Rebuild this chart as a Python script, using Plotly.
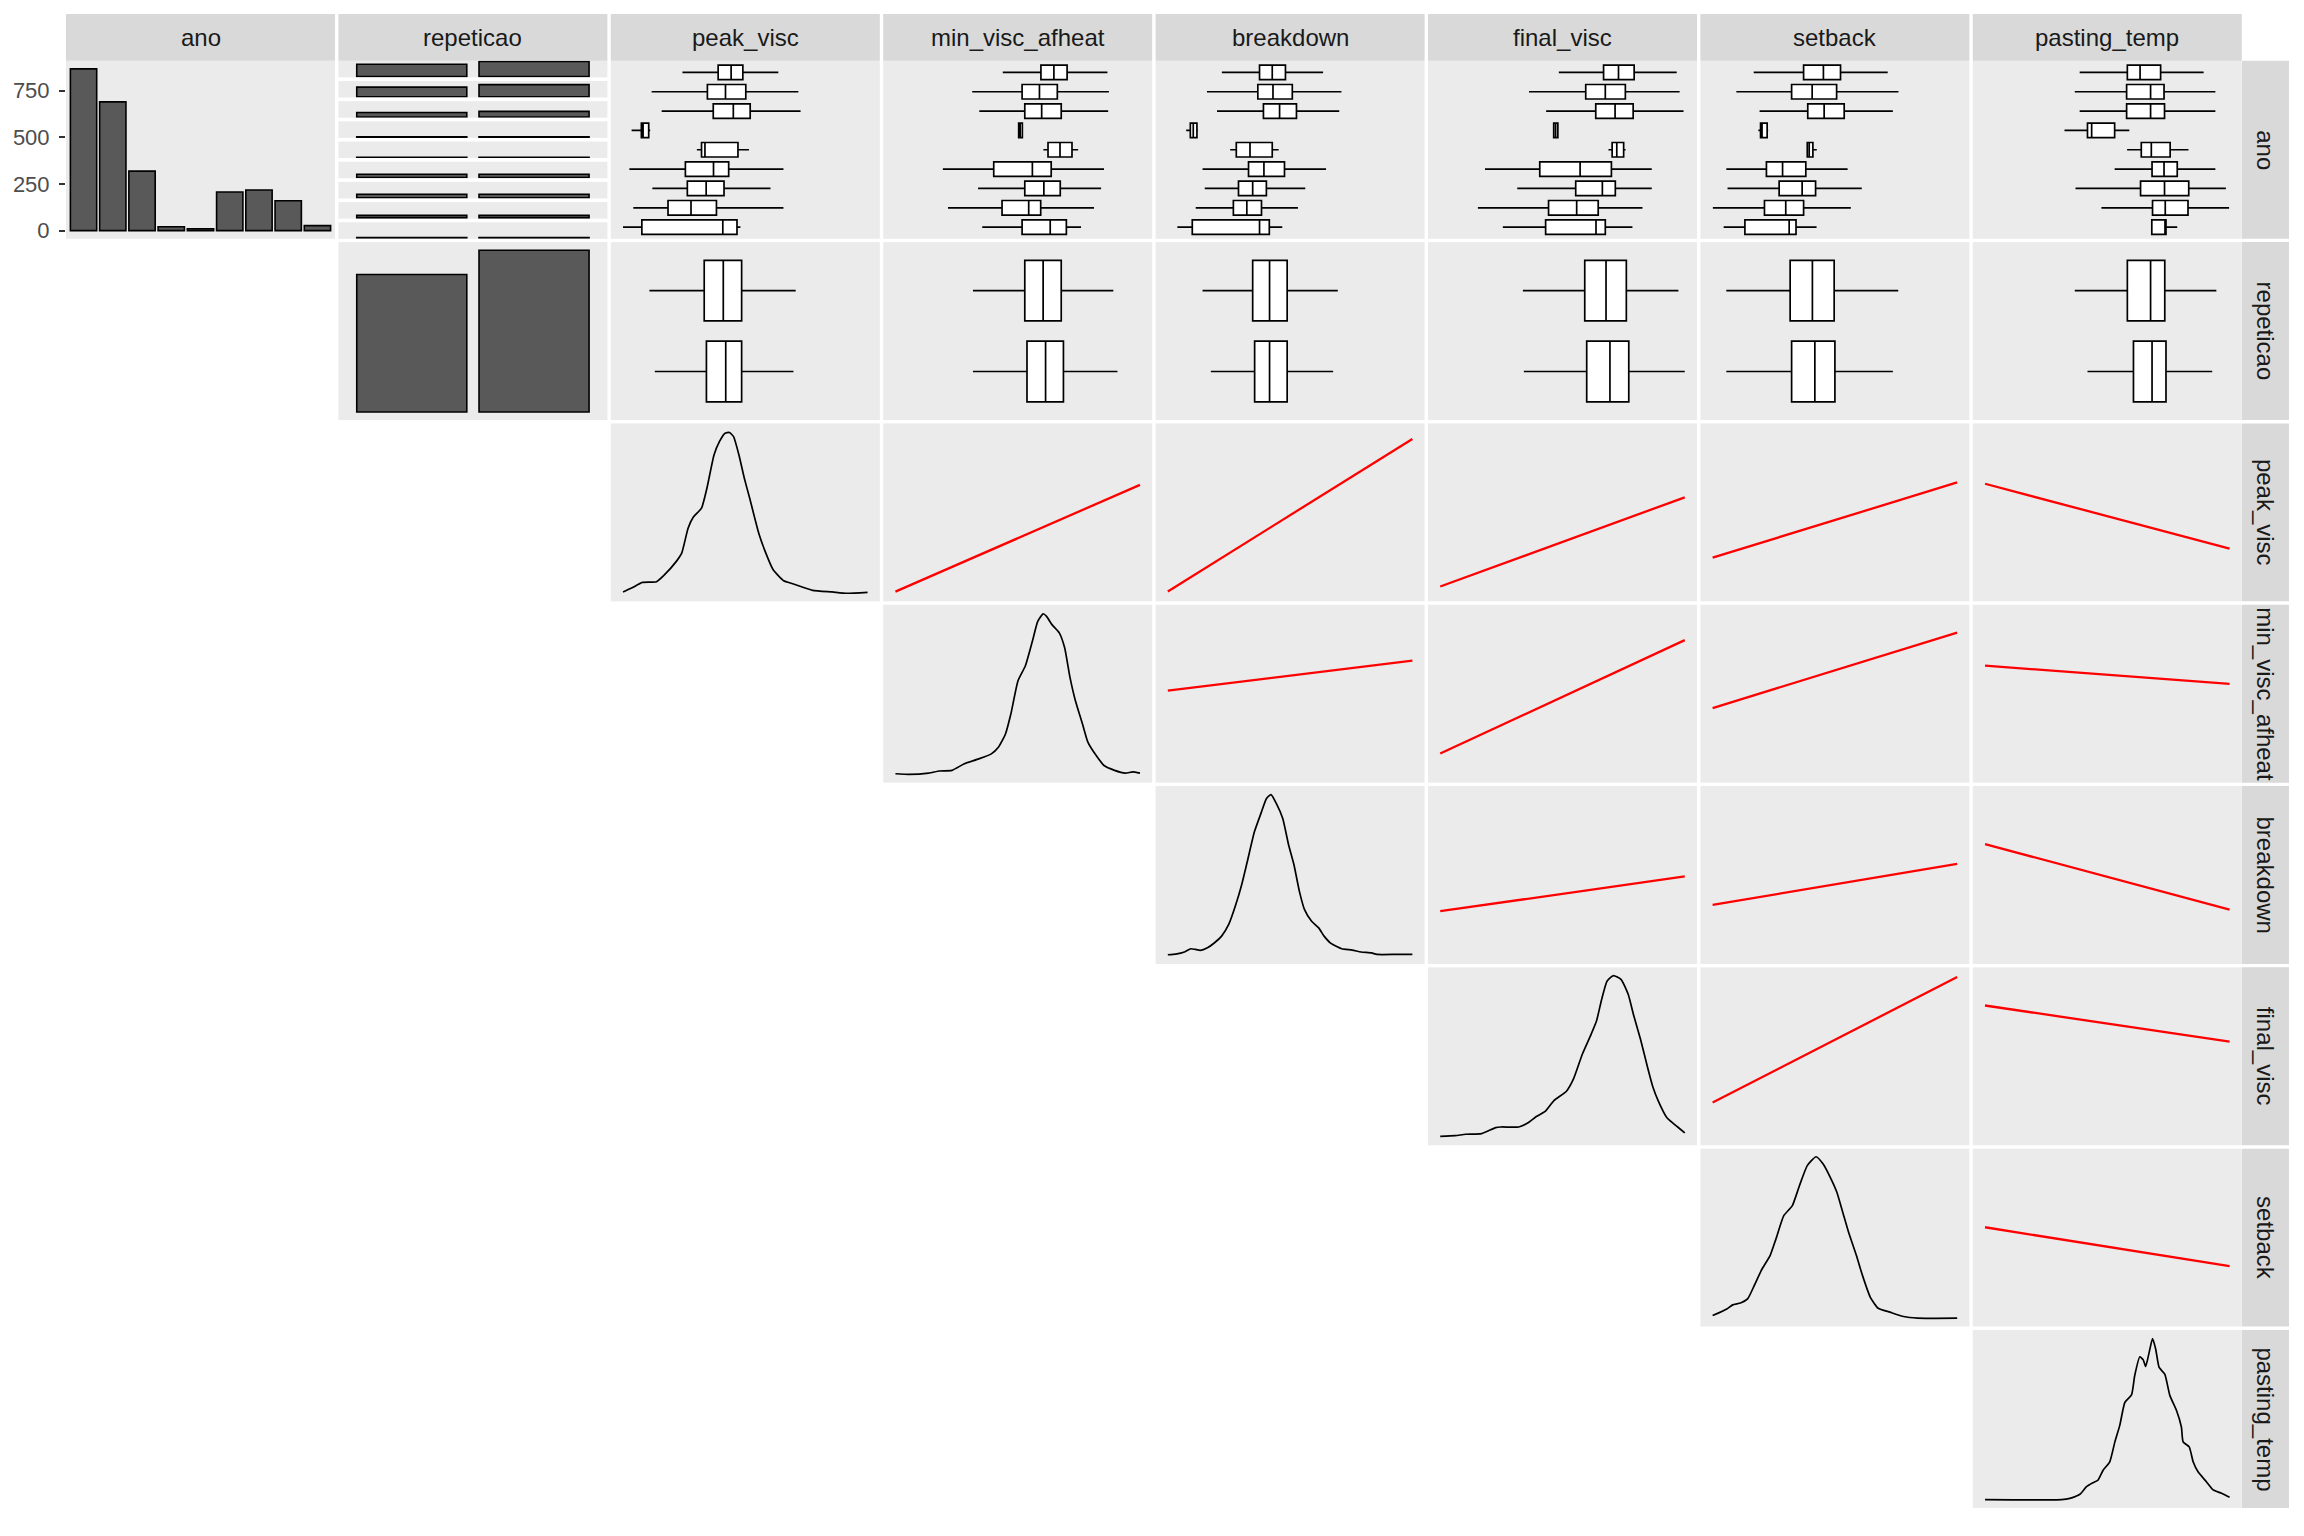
import plotly.graph_objects as go

# ---------------- data ----------------
VARS = ["ano", "repeticao", "peak_visc", "min_visc_afheat", "breakdown",
        "final_visc", "setback", "pasting_temp"]
ANO = ["1", "2", "3", "4", "5", "6", "7", "8", "9"]
REP = ["1", "2"]

ANO_COUNT = [867, 690, 319, 21, 10, 207, 218, 160, 27]
REP_COUNT = [1157, 1362]
REP1_BY_ANO = [390, 305, 142, 10, 5, 103, 109, 80, 13]
REP2_BY_ANO = [477, 385, 177, 11, 5, 104, 109, 80, 14]

# boxplot stats [lower whisker, q1, median, q3, upper whisker] (scaled 0-100 units)
PEAK_ANO = [[24.3, 38.9, 44.2, 49.0, 63.5], [11.7, 34.5, 41.9, 50.2, 71.7],
            [15.8, 36.9, 45.1, 52.0, 72.6], [3.5, 7.5, 8.2, 10.5, 11.1],
            [30.2, 32.1, 33.5, 47.0, 51.5], [2.6, 25.5, 37.0, 43.2, 65.6],
            [12.0, 26.3, 34.0, 41.3, 60.3], [4.2, 18.4, 27.8, 38.2, 65.6],
            [0.0, 7.7, 40.8, 46.6, 48.0]]
PEAK_REP = [[10.8, 33.2, 41.0, 48.5, 70.6], [13.0, 34.1, 42.0, 48.5, 69.7]]

MINV_ANO = [[43.9, 59.5, 64.8, 70.2, 86.7], [31.4, 51.8, 58.9, 66.2, 87.3],
            [34.3, 52.9, 59.8, 67.8, 87.0], [50.1, 50.4, 51.0, 51.9, 52.2],
            [60.5, 62.4, 67.3, 72.2, 74.7], [19.4, 40.2, 56.0, 63.7, 85.3],
            [33.8, 52.9, 60.7, 67.4, 84.1], [21.5, 43.6, 54.5, 59.4, 81.2],
            [35.5, 51.8, 63.3, 69.9, 75.9]]
MINV_REP = [[31.7, 52.9, 60.4, 67.8, 89.1], [31.7, 53.8, 61.4, 68.7, 90.8]]

BREAK_ANO = [[22.1, 37.5, 42.7, 48.1, 63.5], [16.0, 36.8, 43.0, 50.9, 71.0],
             [20.1, 39.1, 45.7, 52.6, 70.1], [7.5, 9.2, 10.4, 11.9, 12.3],
             [25.5, 28.0, 33.6, 42.7, 45.3], [14.2, 33.0, 39.3, 47.7, 64.7],
             [15.1, 28.9, 34.7, 40.3, 56.2], [11.4, 26.8, 32.3, 38.3, 53.2],
             [3.9, 10.0, 37.5, 41.5, 46.8]]
BREAK_REP = [[14.2, 34.7, 41.6, 48.8, 69.5], [17.6, 35.5, 41.6, 48.8, 67.6]]

FINAL_ANO = [[48.5, 66.8, 72.9, 79.3, 96.7], [36.3, 59.5, 67.5, 75.7, 97.9],
             [43.3, 63.6, 71.5, 78.9, 99.5], [46.1, 46.4, 47.2, 48.1, 48.4],
             [68.8, 70.3, 72.2, 75.0, 75.8], [18.3, 40.7, 57.2, 70.0, 86.5],
             [31.5, 55.4, 66.3, 71.6, 86.5], [15.4, 44.3, 55.8, 64.6, 82.7],
             [25.6, 43.1, 63.7, 67.5, 78.6]]
FINAL_REP = [[33.8, 59.1, 67.8, 76.1, 97.4], [34.2, 59.9, 69.4, 77.1, 100.0]]

SETB_ANO = [[16.8, 37.2, 45.3, 52.3, 71.6], [9.7, 32.3, 40.7, 50.7, 76.0],
            [19.2, 38.9, 45.6, 53.8, 73.7], [18.7, 19.6, 20.2, 22.3, 22.7],
            [38.4, 38.7, 39.5, 41.0, 42.6], [5.6, 22.0, 28.6, 38.1, 55.2],
            [6.1, 27.2, 36.6, 42.1, 61.0], [0.1, 21.2, 29.9, 37.2, 56.5],
            [4.5, 13.2, 31.3, 34.1, 42.5]]
SETB_REP = [[5.6, 31.7, 40.8, 49.7, 75.9], [5.6, 32.3, 41.8, 50.0, 73.7]]

PAST_ANO = [[38.7, 58.2, 63.4, 71.8, 89.4], [36.7, 57.9, 67.7, 73.2, 94.2],
            [38.7, 57.9, 67.7, 73.4, 94.2], [32.5, 41.9, 43.6, 53.0, 59.0],
            [58.1, 63.9, 68.0, 75.7, 83.2], [53.0, 68.3, 73.2, 78.6, 94.2],
            [37.0, 63.6, 73.4, 83.3, 98.5], [47.6, 68.5, 73.7, 83.0, 99.8],
            [68.2, 68.2, 73.6, 74.0, 78.6]]
PAST_REP = [[36.7, 58.2, 67.7, 73.5, 94.6], [41.9, 60.7, 68.3, 74.0, 92.9]]

# density curves (x, relative density)
PEAK_DX = [0, 3.5, 7.9, 13.7, 16.7, 21.8, 24.0, 26.6, 28.7, 32.1, 34.3, 37.2, 39.4, 41.6,
           43.5, 45.2, 47.4, 49.6, 51.8, 55.5, 58.4, 61.4, 65.7, 69.4, 77.5, 85.5, 91.4, 100]
PEAK_DY = [0.8, 3.2, 6.7, 7.1, 11.0, 19.7, 24.8, 40.2, 47.0, 52.6, 64.9, 85.5, 93.7, 98.8,
           99.4, 96.8, 85.5, 71.1, 58.7, 37.1, 24.8, 14.5, 7.7, 5.9, 1.8, 0.8, 0.0, 0.6]

MINV_DX = [0, 5.5, 13.6, 18.0, 23.1, 28.2, 34.1, 39.2, 42.1, 45.0, 47.2, 50.1, 53.1, 56.0,
           58.2, 60.4, 61.8, 64.0, 67.0, 69.2, 71.4, 73.6, 76.5, 78.7, 81.6, 85.3, 89.6,
           94.0, 97.0, 100]
MINV_DY = [0.5, 0.1, 0.9, 2.2, 2.6, 6.7, 9.7, 12.8, 16.9, 25.1, 37.4, 57.9, 67.1, 82.4,
           94.7, 99.4, 97.8, 92.7, 87.6, 78.4, 59.9, 45.6, 31.2, 20.0, 12.8, 5.6, 2.6,
           0.9, 1.6, 0.9]

BREAK_DX = [0, 3.2, 6.8, 9.4, 11.2, 13.3, 16.2, 19.1, 22.0, 24.9, 27.8, 30.2, 32.5, 35.4,
            38.3, 40.3, 42.2, 44.4, 47.0, 49.4, 51.6, 53.8, 55.9, 58.8, 61.7, 63.9, 66.7,
            71.1, 75.4, 79.0, 83.3, 85.5, 93.5, 100]
BREAK_DY = [0.7, 1.1, 2.4, 4.4, 4.0, 3.4, 5.0, 8.1, 12.2, 19.4, 31.7, 44.0, 58.3, 76.7,
            89.0, 97.2, 99.7, 94.1, 84.9, 68.5, 56.2, 39.9, 28.6, 21.4, 17.3, 12.2, 7.7,
            4.4, 3.6, 2.4, 1.8, 0.9, 0.9, 0.9]

FINAL_DX = [0, 6.1, 10.4, 16.9, 22.7, 24.9, 32.1, 35.7, 39.3, 42.9, 46.5, 51.6, 54.5, 58.1,
            61.7, 63.9, 66.0, 68.2, 70.8, 74.0, 76.9, 79.0, 81.9, 84.8, 87.0, 89.1, 92.7,
            97.1, 100]
FINAL_DY = [0.5, 0.9, 1.8, 2.2, 5.9, 6.3, 6.3, 8.7, 12.8, 15.9, 22.6, 28.4, 36.0, 51.3,
            63.6, 71.8, 85.1, 96.4, 99.9, 97.4, 88.2, 75.9, 60.5, 43.1, 30.8, 22.6, 12.0,
            6.3, 2.6]

SETB_DX = [0, 5.8, 8.2, 11.4, 14.3, 17.0, 20.2, 23.5, 25.9, 29.1, 32.6, 35.5, 38.7, 42.3,
           45.2, 48.4, 50.8, 53.2, 55.6, 58.8, 61.3, 64.5, 67.7, 72.5, 78.1, 83.8, 100]
SETB_DY = [1.8, 5.9, 8.4, 9.6, 12.1, 20.3, 30.6, 38.9, 49.2, 63.6, 69.8, 82.1, 94.5, 100.0,
           95.5, 86.3, 78.0, 65.7, 53.3, 38.9, 26.5, 13.1, 6.3, 3.9, 1.2, 0.2, 0.2]

PAST_DX = [0, 31.3, 34.7, 38.8, 41.5, 44.2, 46.2, 48.3, 51.0, 53.1, 55.1, 57.2, 59.9, 61.2,
           63.3, 64.7, 65.7, 67.1, 68.5, 69.8, 71.2, 73.5, 75.6, 78.3, 80.3, 81.0, 83.5,
           85.1, 87.1, 90.5, 93.3, 96.7, 100]
PAST_DY = [0.1, 0.1, 0.9, 3.4, 8.1, 10.6, 12.2, 18.3, 23.5, 35.8, 46.0, 60.3, 64.8, 76.7,
           88.4, 86.5, 82.4, 91.0, 99.7, 93.1, 81.8, 77.7, 64.4, 55.2, 45.0, 35.8, 32.7,
           23.5, 17.3, 11.2, 6.1, 4.0, 1.6]

# linear fits: fitted y (row variable) at x-min and x-max of the column variable
FIT_PAIRS = [("peak_visc", "min_visc_afheat"), ("peak_visc", "breakdown"),
             ("peak_visc", "final_visc"), ("peak_visc", "setback"),
             ("peak_visc", "pasting_temp"), ("min_visc_afheat", "breakdown"),
             ("min_visc_afheat", "final_visc"), ("min_visc_afheat", "setback"),
             ("min_visc_afheat", "pasting_temp"), ("breakdown", "final_visc"),
             ("breakdown", "setback"), ("breakdown", "pasting_temp"),
             ("final_visc", "setback"), ("final_visc", "pasting_temp"),
             ("setback", "pasting_temp")]
FIT_Y_START = [1.0, 1.1, 4.2, 22.0, 67.7, 51.9, 13.0, 41.1, 67.3, 27.6, 31.5, 69.1, 21.4, 81.4, 56.4]
FIT_Y_END = [67.0, 95.4, 59.3, 68.5, 27.6, 70.4, 83.1, 87.8, 56.0, 49.1, 56.9, 28.6, 99.0, 59.1, 32.3]
X_MIN, X_MAX = 0, 100

# ---------------- layout helpers ----------------
W, H = 2304, 1536
COL_X0, COL_STEP, PANEL_W = 66, 272.4, 269
ROW_Y0, ROW_STEP, PANEL_H = 61, 181.9, 178.5
GRAY_BG = "#EBEBEB"
STRIP_BG = "#D9D9D9"
FONT = "Liberation Sans, Arial, sans-serif"

fig = go.Figure()
counter = [0]
layout_axes = {}


def new_axes(x0, y0, w, h, xcfg=None, ycfg=None):
    counter[0] += 1
    i = counter[0]
    sx = "" if i == 1 else str(i)
    base = dict(showgrid=False, zeroline=False, showticklabels=False, ticks="",
                showline=False, fixedrange=True)
    xa = dict(base, domain=[x0 / W, (x0 + w) / W], anchor="y" + sx)
    ya = dict(base, domain=[1 - (y0 + h) / H, 1 - y0 / H], anchor="x" + sx)
    if xcfg:
        xa.update(xcfg)
    if ycfg:
        ya.update(ycfg)
    layout_axes["xaxis" + sx] = xa
    layout_axes["yaxis" + sx] = ya
    return "x" + sx, "y" + sx


def cell(r, c):
    return COL_X0 + c * COL_STEP, ROW_Y0 + r * ROW_STEP


CONT_RANGE = [-5, 105]
BOX_ANO = {"peak_visc": PEAK_ANO, "min_visc_afheat": MINV_ANO, "breakdown": BREAK_ANO,
           "final_visc": FINAL_ANO, "setback": SETB_ANO, "pasting_temp": PAST_ANO}
BOX_REP = {"peak_visc": PEAK_REP, "min_visc_afheat": MINV_REP, "breakdown": BREAK_REP,
           "final_visc": FINAL_REP, "setback": SETB_REP, "pasting_temp": PAST_REP}
DENS = {"peak_visc": (PEAK_DX, PEAK_DY), "min_visc_afheat": (MINV_DX, MINV_DY),
        "breakdown": (BREAK_DX, BREAK_DY), "final_visc": (FINAL_DX, FINAL_DY),
        "setback": (SETB_DX, SETB_DY), "pasting_temp": (PAST_DX, PAST_DY)}

bar_marker = dict(color="#595959", line=dict(color="black", width=1.6))

# (0,0) ano bar chart
x0, y0 = cell(0, 0)
mx = max(ANO_COUNT)
xr, yr = new_axes(x0, y0, PANEL_W, PANEL_H,
                  dict(type="category", categoryorder="array", categoryarray=ANO,
                       range=[-0.6, len(ANO) - 0.4]),
                  dict(range=[-0.05 * mx, 1.05 * mx], showticklabels=True, ticks="outside",
                       tickvals=[0, 250, 500, 750], ticklen=6, tickwidth=1.6,
                       tickcolor="#333333", ticklabelstandoff=5,
                       tickfont=dict(size=22, color="#4D4D4D", family=FONT)))
fig.add_trace(go.Bar(x=ANO, y=ANO_COUNT, width=0.9, marker=bar_marker,
                     xaxis=xr, yaxis=yr, showlegend=False, hoverinfo="skip"))

# (0,1) repeticao faceted by ano
sub_step, sub_h = 20.25, 16.6
x0, y0 = cell(0, 1)
mrep = max(max(REP1_BY_ANO), max(REP2_BY_ANO))
for k in range(len(ANO)):
    xr, yr = new_axes(x0, y0 + k * sub_step, PANEL_W, sub_h,
                      dict(type="category", categoryorder="array", categoryarray=REP,
                           range=[-0.6, 1.6]),
                      dict(range=[-0.05 * mrep, 1.05 * mrep]))
    fig.add_trace(go.Bar(x=REP, y=[REP1_BY_ANO[k], REP2_BY_ANO[k]], width=0.9,
                         marker=bar_marker, xaxis=xr, yaxis=yr, showlegend=False,
                         hoverinfo="skip"))

# (1,1) repeticao bar chart
x0, y0 = cell(1, 1)
mr = max(REP_COUNT)
xr, yr = new_axes(x0, y0, PANEL_W, PANEL_H,
                  dict(type="category", categoryorder="array", categoryarray=REP,
                       range=[-0.6, 1.6]),
                  dict(range=[-0.05 * mr, 1.05 * mr]))
fig.add_trace(go.Bar(x=REP, y=REP_COUNT, width=0.9, marker=bar_marker,
                     xaxis=xr, yaxis=yr, showlegend=False, hoverinfo="skip"))

box_style = dict(orientation="h", width=0.75, whiskerwidth=0, fillcolor="white",
                 line=dict(color="black", width=1.7), boxpoints=False,
                 showlegend=False, hoverinfo="skip")

for c in range(2, 8):
    var = VARS[c]
    # rows 0/1: boxplots by ano and by repeticao
    for r, (cats, stats) in enumerate([(ANO, BOX_ANO[var]), (REP, BOX_REP[var])]):
        x0, y0 = cell(r, c)
        xr, yr = new_axes(x0, y0, PANEL_W, PANEL_H, dict(range=CONT_RANGE),
                          dict(type="category", categoryorder="array", categoryarray=cats,
                               range=[len(cats) - 0.4, -0.6]))
        fig.add_trace(go.Box(y=cats,
                             lowerfence=[s[0] for s in stats], q1=[s[1] for s in stats],
                             median=[s[2] for s in stats], q3=[s[3] for s in stats],
                             upperfence=[s[4] for s in stats],
                             xaxis=xr, yaxis=yr, **box_style))
    # diagonal density
    x0, y0 = cell(c, c)
    xr, yr = new_axes(x0, y0, PANEL_W, PANEL_H, dict(range=CONT_RANGE), dict(range=CONT_RANGE))
    dx, dy = DENS[var]
    fig.add_trace(go.Scatter(x=dx, y=dy, mode="lines",
                             line=dict(color="black", width=1.7, shape="spline", smoothing=0.5),
                             xaxis=xr, yaxis=yr, showlegend=False, hoverinfo="skip"))

# upper triangle: linear fits
for (rv, cv), ys, ye in zip(FIT_PAIRS, FIT_Y_START, FIT_Y_END):
    r, c = VARS.index(rv), VARS.index(cv)
    x0, y0 = cell(r, c)
    xr, yr = new_axes(x0, y0, PANEL_W, PANEL_H, dict(range=CONT_RANGE), dict(range=CONT_RANGE))
    fig.add_trace(go.Scatter(x=[X_MIN, X_MAX], y=[ys, ye], mode="lines",
                             line=dict(color="#FF0000", width=2.3),
                             xaxis=xr, yaxis=yr, showlegend=False, hoverinfo="skip"))

# strips
shapes, annotations = [], []
STRIP_TOP, STRIP_BOT = 14, 61
STRIP_L, STRIP_R = 2242, 2289
for i, name in enumerate(VARS):
    x0, _ = cell(0, i)
    shapes.append(dict(type="rect", xref="paper", yref="paper",
                       x0=x0 / W, x1=(x0 + PANEL_W) / W,
                       y0=1 - STRIP_BOT / H, y1=1 - STRIP_TOP / H,
                       fillcolor=STRIP_BG, line=dict(width=0), layer="below"))
    annotations.append(dict(text=name, xref="paper", yref="paper",
                            x=(x0 + PANEL_W / 2) / W, y=1 - (STRIP_TOP + STRIP_BOT) / 2 / H,
                            showarrow=False, xanchor="center", yanchor="middle",
                            font=dict(size=24, color="#1A1A1A", family=FONT)))
    _, y0 = cell(i, 0)
    shapes.append(dict(type="rect", xref="paper", yref="paper",
                       x0=STRIP_L / W, x1=STRIP_R / W,
                       y0=1 - (y0 + PANEL_H) / H, y1=1 - y0 / H,
                       fillcolor=STRIP_BG, line=dict(width=0), layer="below"))
    annotations.append(dict(text=name, xref="paper", yref="paper",
                            x=(STRIP_L + STRIP_R) / 2 / W, y=1 - (y0 + PANEL_H / 2) / H,
                            showarrow=False, xanchor="center", yanchor="middle", textangle=90,
                            font=dict(size=24, color="#1A1A1A", family=FONT)))

fig.update_layout(width=W, height=H, margin=dict(l=0, r=0, t=0, b=0),
                  paper_bgcolor="white", plot_bgcolor=GRAY_BG, showlegend=False,
                  font=dict(family=FONT), shapes=shapes, annotations=annotations,
                  **layout_axes)

fig.write_html("out.html")
